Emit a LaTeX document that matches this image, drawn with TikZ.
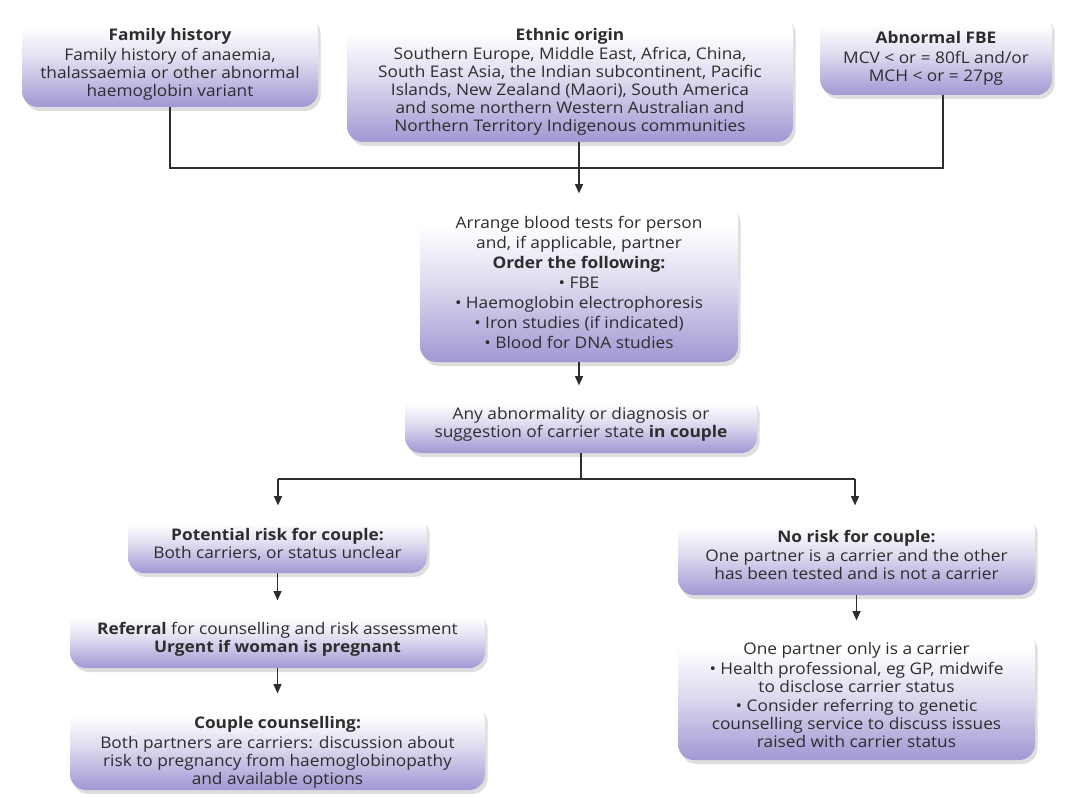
\documentclass[tikz,border=0pt]{standalone}
\usepackage{fontspec}
\setmainfont{Open Sans}[FakeStretch=1.08]
\usetikzlibrary{shadows,arrows.meta}
\definecolor{lav}{RGB}{162,152,211}
\definecolor{txt}{RGB}{45,45,45}
\pgfdeclareverticalshading{boxshade}{100bp}{color(0bp)=(lav); color(25bp)=(lav); color(30bp)=(lav!88!white); color(50bp)=(lav!35!white); color(68bp)=(white); color(100bp)=(white)}
\newcommand\dnfix[1]{\rule{0pt}{#1}}
\tikzset{
  box/.style={shade, shading=boxshade, rounded corners=12pt,
    drop shadow={shadow xshift=2pt, shadow yshift=-3pt, opacity=0.18, fill=black!70},
    inner sep=0pt, align=center, text=txt, font=\fontsize{12}{13.5}\selectfont},
  conn/.style={draw=txt, line width=1pt},
  arr/.style={conn, -{Triangle[width=6pt,length=7pt]}, shorten >=7pt}
}
\begin{document}
\begin{tikzpicture}[x=0.75pt,y=-0.75pt]
\fill[white] (0,0) rectangle (1069,798);
\useasboundingbox (0,0) rectangle (1069,798);

\node[box, minimum width=296*0.75pt, minimum height=93*0.75pt] (fam) at (170,60.5)
  {\dnfix{15pt}\textbf{Family history}\\[1pt]Family history of anaemia,\\thalassaemia or other abnormal\\haemoglobin variant};
\node[box, minimum width=446*0.75pt, minimum height=128*0.75pt] (eth) at (570,78)
  {\dnfix{15pt}\textbf{Ethnic origin}\\[1pt]Southern Europe, Middle East, Africa, China,\\South East Asia, the Indian subcontinent, Pacific\\Islands, New Zealand (Maori), South America\\and some northern Western Australian and\\Northern Territory Indigenous communities};
\node[box, minimum width=232*0.75pt, minimum height=81*0.75pt] (fbe) at (936,54.5)
  {\dnfix{15pt}\textbf{Abnormal FBE}\\[1pt]MCV < or = 80fL and/or\\MCH < or = 27pg};

\node[box, minimum width=318*0.75pt, minimum height=159*0.75pt, font=\fontsize{12}{15}\selectfont] (arrange) at (579,282.5)
  {Arrange blood tests for person\\and, if applicable, partner\\\textbf{Order the following:}\\• FBE\\• Haemoglobin electrophoresis\\• Iron studies (if indicated)\\• Blood for DNA studies};
\node[box, minimum width=352*0.75pt, minimum height=58*0.75pt] (any) at (581,424)
  {Any abnormality or diagnosis or\\suggestion of carrier state \textbf{in couple}};

\node[box, minimum width=299*0.75pt, minimum height=58*0.75pt] (pot) at (277.5,544)
  {\textbf{Potential risk for couple:}\\Both carriers, or status unclear};
\node[box, minimum width=415*0.75pt, minimum height=58*0.75pt] (ref) at (277.5,639)
  {\textbf{Referral} for counselling and risk assessment\\\textbf{Urgent if woman is pregnant}};
\node[box, minimum width=415*0.75pt, minimum height=87*0.75pt] (cc) at (277.5,746.5)
  {\dnfix{18pt}\textbf{Couple counselling:}\\[2pt]Both partners are carriers: discussion about\\risk to pregnancy from haemoglobinopathy\\and available options};

\node[box, minimum width=357*0.75pt, minimum height=80*0.75pt] (nor) at (856.5,555)
  {\textbf{No risk for couple:}\\[1pt]One partner is a carrier and the other\\has been tested and is not a carrier};
\node[box, minimum width=357*0.75pt, minimum height=130*0.75pt] (one) at (856.5,695)
  {One partner only is a carrier\\[1pt]• Health professional, eg GP, midwife\\to disclose carrier status\\[1pt]• Consider referring to genetic\\counselling service to discuss issues\\raised with carrier status};

\coordinate (j1) at (170,168);
\coordinate (j2) at (943,168);
\draw[conn] (fam.south) -- (j1) -- (j2) -- (fbe.south -| j2);
\draw[arr] (eth.south -| arrange.north) -- (arrange.north);
\draw[arr] (arrange.south) -- (arrange.south |- any.north);

\coordinate (j3) at (278,479);
\coordinate (j4) at (855,479);
\draw[conn] (any.south) -- (any.south |- j3);
\draw[conn] (j3) -- (j4);
\draw[arr] (j3) -- (j3 |- pot.north);
\draw[arr] (j4) -- (j4 |- nor.north);
\draw[arr] (pot.south) -- (ref.north);
\draw[arr] (ref.south) -- (cc.north);
\draw[arr] (nor.south) -- (one.north);
\end{tikzpicture}
\end{document}
